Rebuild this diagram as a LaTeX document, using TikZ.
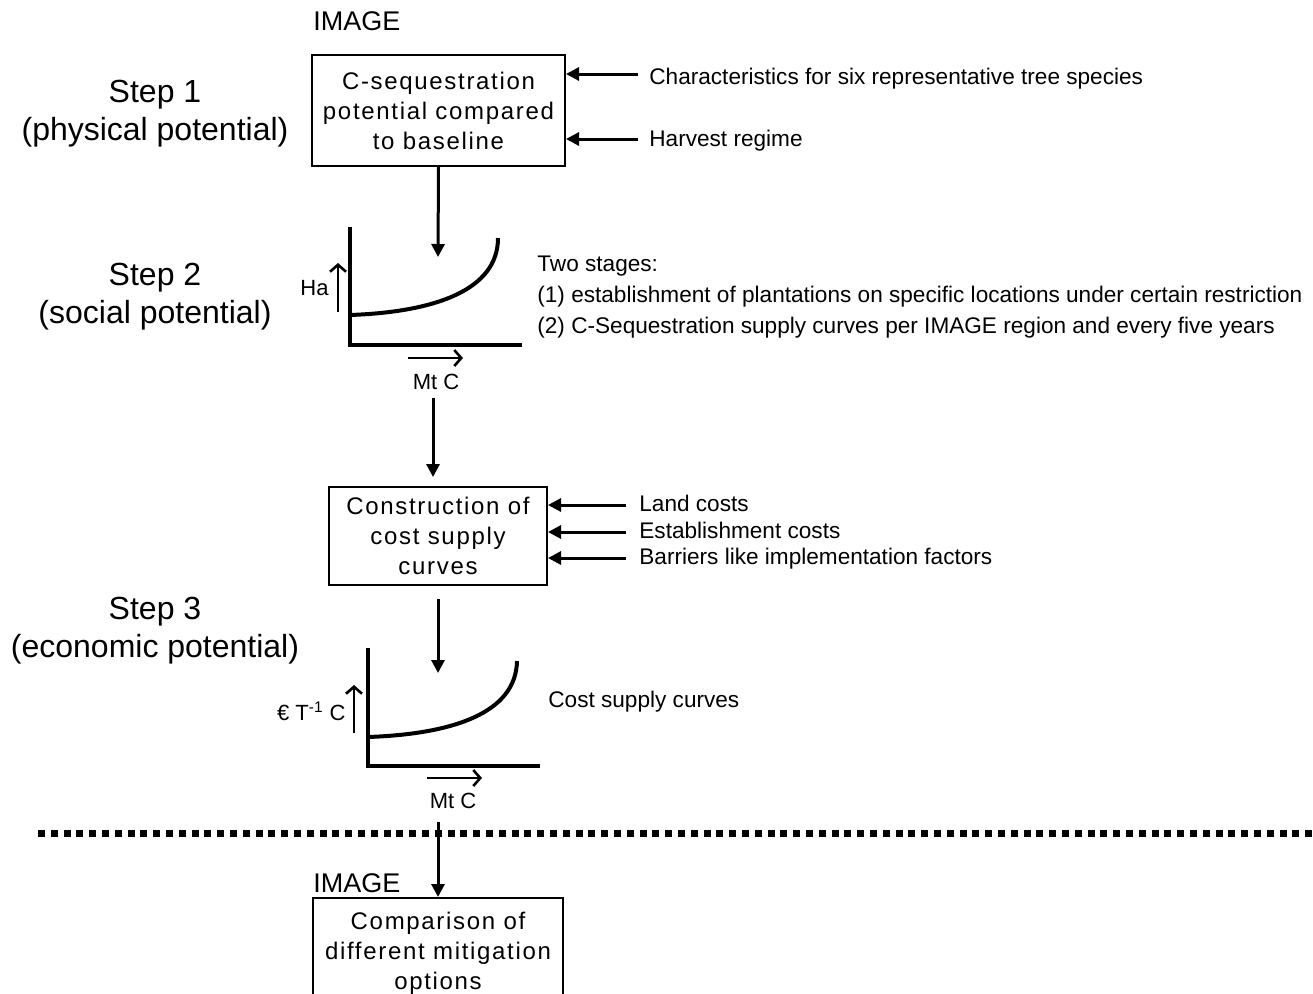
\documentclass[tikz,border=0pt]{standalone}
\usepackage{fontspec}
\setmainfont{Liberation Sans}
\newfontfamily\boxfont[LetterSpace=7]{Liberation Sans}
\usetikzlibrary{arrows.meta,calc,positioning}
\definecolor{ink}{HTML}{000000}
\tikzset{
  stage/.style={draw=ink,line width=1pt,fill=white,inner sep=0pt,align=center,font=\boxfont\fontsize{12}{15}\selectfont},
  steplbl/.style={align=center,inner sep=0pt,font=\fontsize{16}{19}\selectfont},
  inp/.style={anchor=west,inner sep=0pt,text height=0.75em,text depth=0.22em,font=\fontsize{11.3}{15.5}\selectfont},
  note/.style={anchor=west,inner sep=0pt,align=left,font=\fontsize{11.3}{15.5}\selectfont},
  tag/.style={anchor=base west,inner sep=0pt,font=\fontsize{13.5}{16}\selectfont},
  axlbl/.style={inner sep=0pt,font=\fontsize{11}{12}\selectfont},
  fl/.style={-{Triangle[length=6.5pt,width=6.5pt]},line width=1.5pt,draw=ink},
  axis/.style={line width=2pt,draw=ink},
  crv/.style={line width=2pt,draw=ink},
  dirn/.style={-{Straight Barb[length=3.5pt,width=8pt]},line width=1.3pt,draw=ink},
  >=Triangle}

\begin{document}
\begin{tikzpicture}[x=0.5pt,y=-0.5pt]
\useasboundingbox (0,0) rectangle (1313,993);

\node[steplbl] (s1) at (155,114) {Step 1\\ (physical potential)};
\node[steplbl] (s2) at (155,297) {Step 2\\ (social potential)};
\node[steplbl] (s3) at (155,631) {Step 3\\ (economic potential)};

\node[tag] (img1) at (313,30) {IMAGE};
\node[stage,minimum width=126.5pt,minimum height=55.5pt] (seq) at (438.5,110.5)
  {C-sequestration\\ potential compared\\ to baseline};
\coordinate (chrt) at (638,74);
\coordinate (hrvt) at (638,139);
\node[inp,right=5.5pt of chrt,yshift=-2.8pt] (chr) {Characteristics for six representative tree species};
\node[inp,right=5.5pt of hrvt,yshift=-1.2pt] (hrv) {Harvest regime};
\draw[fl] (chrt) -- (chrt -| seq.east);
\draw[fl] (hrvt) -- (hrvt -| seq.east);

\draw[axis] (350,227) |- (522,345);
\draw[crv] (350,315) .. controls (435,312) and (498,290) .. (498,238);
\draw[dirn] (338,312) -- (338,263);
\node[axlbl,anchor=east] (ha) at (329,288) {Ha};
\draw[dirn] (408,358) -- (463,358);
\node[axlbl] (mtc1) at (436,382) {Mt C};
\coordinate (g1in) at (438,257);
\coordinate (g1out) at (433,398);
\draw[fl] (seq.south) -- (g1in);
\node[note] (two) at (537,297)
  {Two stages:\\ (1) establishment of plantations on specific locations under certain restriction\\
   (2) C-Sequestration supply curves per IMAGE region and every five years};

\node[stage,minimum width=109pt,minimum height=49pt] (cst) at (438,536)
  {Construction of\\ cost supply\\ curves};
\draw[fl,shorten >=4.5pt] (g1out) -- (g1out |- cst.north);
\coordinate (lndt) at (626,505);
\coordinate (estt) at (626,532);
\coordinate (bart) at (626,558);
\node[inp,right=6.5pt of lndt,yshift=-0.6pt] (lnd) {Land costs};
\node[inp,right=6.5pt of estt,yshift=-0.6pt] (est) {Establishment costs};
\node[inp,right=6.5pt of bart,yshift=-0.6pt] (bar) {Barriers like implementation factors};
\draw[fl] (lndt) -- (lndt -| cst.east);
\draw[fl] (estt) -- (estt -| cst.east);
\draw[fl] (bart) -- (bart -| cst.east);

\coordinate (g2in) at (438,673);
\draw[fl,shorten <=6.5pt] (cst.south) -- (g2in);
\draw[axis] (368,648) |- (540,766);
\draw[crv] (368,737) .. controls (453,734) and (516,713) .. (517,661);
\draw[dirn] (354,733) -- (354,685);
\node[axlbl,anchor=east] (eur) at (346,711) {€ T\textsuperscript{-1} C};
\draw[dirn] (427,778) -- (482,778);
\node[axlbl] (mtc2) at (453,801) {Mt C};
\node[inp] (csc) at (548,702) {Cost supply curves};

\draw[line width=3.5pt,dash pattern=on 3.5pt off 2.9pt] (38,833) -- (1320,833);

\coordinate (g2out) at (438,822);
\node[tag] (img2) at (313,892) {IMAGE};
\node[stage,minimum width=125pt,minimum height=55pt] (cmp) at (438,953)
  {Comparison of\\ different mitigation\\ options};
\draw[fl] (g2out) -- (cmp.north);
\end{tikzpicture}
\end{document}
